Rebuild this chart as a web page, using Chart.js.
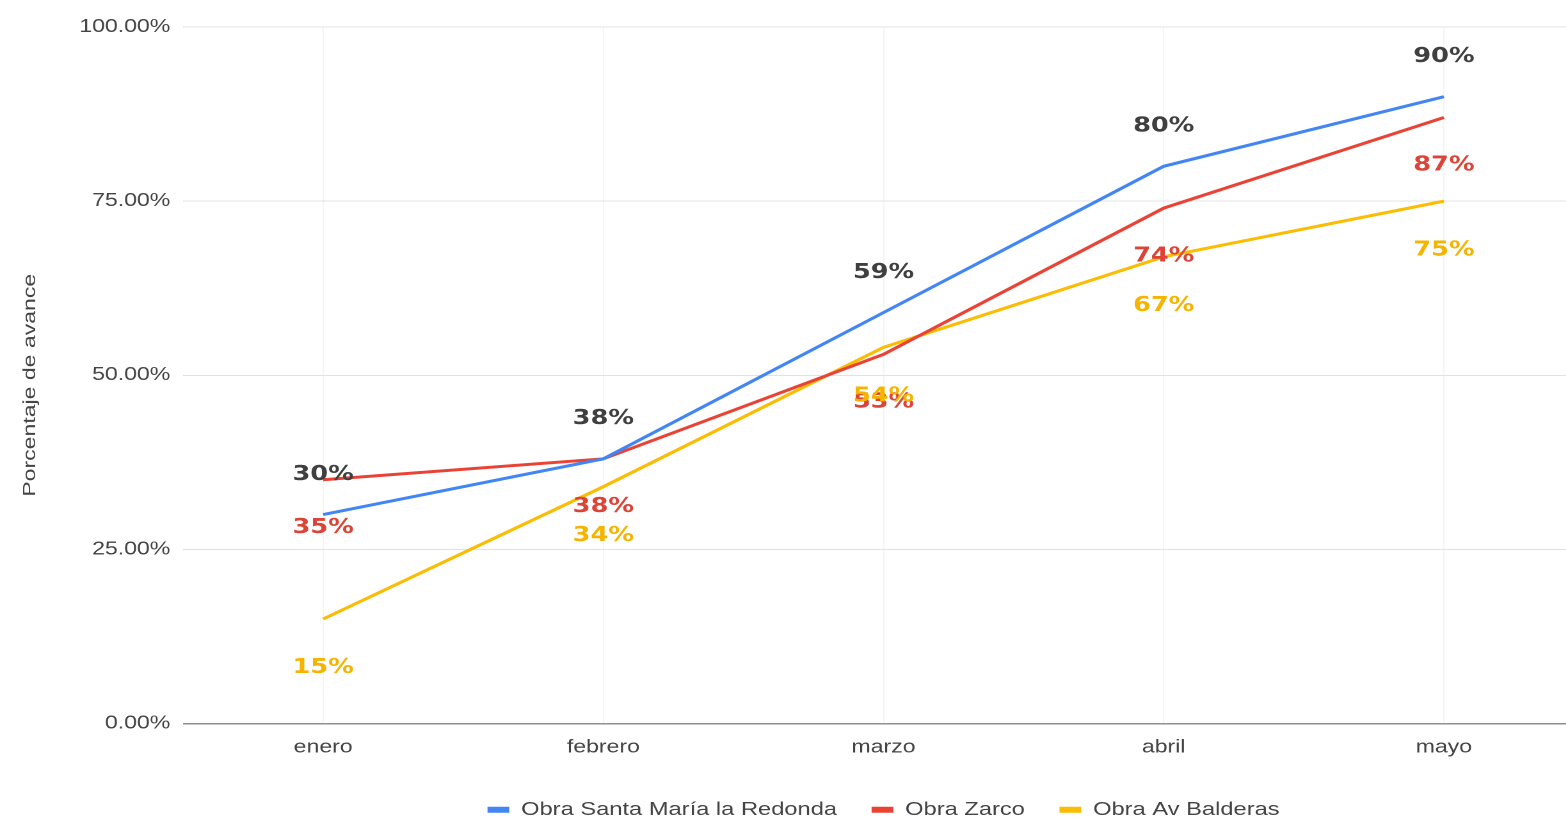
<!DOCTYPE html>
<html>
<head>
<meta charset="utf-8">
<script src="https://cdn.jsdelivr.net/npm/chart.js@4.4.1/dist/chart.umd.min.js"></script>
<style>
  html, body { margin: 0; padding: 0; background: #ffffff; overflow: hidden; }
  #wrap { width: 1250px; height: 829px; transform: scaleX(1.28); transform-origin: 0 0; }
</style>
</head>
<body>
<div id="wrap"><canvas id="c" width="1250" height="829"></canvas></div>
<script>
// ---- data ----
const categories = ['enero', 'febrero', 'marzo', 'abril', 'mayo'];
const seriesNames = ['Obra Santa María la Redonda', 'Obra Zarco', 'Obra Av Balderas'];
const santaMaria = [30, 38, 59, 80, 90];
const zarco = [35, 38, 53, 74, 87];
const balderas = [15, 34, 54, 67, 75];
const yTickValues = [0, 25, 50, 75, 100];
const yAxisTitle = 'Porcentaje de avance';

// ---- styles ----
const stretchX = 1.28;
const lineColors = ['#4285F4', '#EA4335', '#FBBC04'];
const labelColors = ['#3f3f3f', '#DB4437', '#F4B400'];
const labelOffsets = [-40, 48, 49];
const textColor = '#444444';
const baseFont = "'Liberation Sans', Arial, sans-serif";

const seriesValues = [santaMaria, zarco, balderas];

const pointValueLabels = {
  id: 'pointValueLabels',
  afterDatasetsDraw(chart) {
    const ctx = chart.ctx;
    chart.data.datasets.forEach((ds, i) => {
      const meta = chart.getDatasetMeta(i);
      ctx.save();
      ctx.font = "bold 20px 'DejaVu Sans', sans-serif";
      ctx.fillStyle = labelColors[i];
      ctx.textAlign = 'center';
      ctx.textBaseline = 'middle';
      meta.data.forEach((pt, j) => {
        ctx.fillText(ds.data[j] + '%', pt.x, pt.y + labelOffsets[i]);
      });
      ctx.restore();
    });
  }
};

// y-axis title drawn with the same horizontal widening as the other texts
const yTitlePlugin = {
  id: 'yTitle',
  afterDraw(chart) {
    const ctx = chart.ctx;
    const area = chart.chartArea;
    const ys = chart.scales.y;
    ctx.save();
    ctx.translate(ys.left + 23.4, (area.top + area.bottom) / 2 + 10);
    ctx.rotate(-Math.PI / 2);
    ctx.scale(stretchX, 1 / stretchX);
    ctx.font = "18px " + baseFont;
    ctx.fillStyle = textColor;
    ctx.textAlign = 'center';
    ctx.textBaseline = 'middle';
    ctx.fillText(yAxisTitle, 0, 0);
    ctx.restore();
  }
};

new Chart(document.getElementById('c'), {
  type: 'line',
  data: {
    labels: categories,
    datasets: seriesNames.map((name, i) => ({
      label: name,
      data: seriesValues[i],
      borderColor: lineColors[i],
      backgroundColor: lineColors[i],
      borderWidth: 3,
      pointRadius: 0,
      tension: 0,
      fill: false
    }))
  },
  options: {
    responsive: false,
    devicePixelRatio: 2,
    animation: false,
    layout: { padding: { top: 27, right: 12.5, left: 0, bottom: 0 } },
    plugins: {
      tooltip: { enabled: false },
      legend: {
        position: 'bottom',
        fullSize: false,
        labels: {
          boxWidth: 17,
          boxHeight: 6,
          padding: 27,
          color: textColor,
          font: { family: baseFont, size: 18.5 },
          generateLabels(chart) {
            return chart.data.datasets.map((ds, i) => ({
              text: ds.label,
              fillStyle: lineColors[i],
              strokeStyle: lineColors[i],
              lineWidth: 0,
              hidden: false,
              datasetIndex: i,
              fontColor: textColor
            }));
          }
        }
      }
    },
    scales: {
      x: {
        offset: true,
        afterFit(scale) { scale.height = 50; },
        grid: { display: true, drawTicks: false, color: '#f5f5f5', lineWidth: 1 },
        border: { display: false },
        ticks: { color: textColor, padding: 13, font: { family: baseFont, size: 18 } }
      },
      y: {
        min: 0,
        max: 100,
        afterFit(scale) { scale.width = 143; },
        afterBuildTicks(scale) { scale.ticks = yTickValues.map(v => ({ value: v })); },
        grid: {
          drawTicks: false,
          color: (c) => (c.tick && c.tick.value === 0 ? '#8f8f8f' : '#e2e2e2'),
          lineWidth: (c) => (c.tick && c.tick.value === 0 ? 1.5 : 1)
        },
        border: { display: false },
        ticks: {
          color: textColor,
          padding: 10,
          font: { family: baseFont, size: 18 },
          callback: (v) => Number(v).toFixed(2) + '%'
        },
        title: { display: false, text: yAxisTitle }
      }
    }
  },
  plugins: [pointValueLabels, yTitlePlugin]
});
</script>
</body>
</html>
